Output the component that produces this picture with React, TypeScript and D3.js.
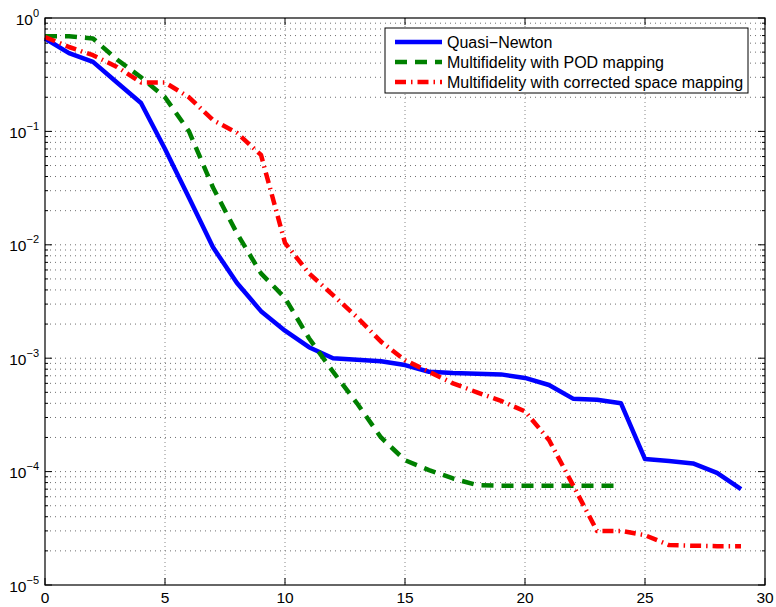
import React from 'react'
import * as d3 from 'd3'

// iteration numbers
const iterations = d3.range(0, 30)

// objective values
const quasiNewton = [0.66, 0.49, 0.41, 0.27, 0.178, 0.07, 0.026, 0.0095, 0.0046, 0.0026,
  0.00175, 0.00125, 0.001, 0.00097, 0.00094, 0.00087, 0.00076, 0.00074, 0.00073, 0.00072,
  0.00067, 0.00058, 0.00044, 0.00043, 0.0004, 0.000129, 0.000124, 0.000118, 0.0000975, 0.00007]

const podMapping = [0.69, 0.69, 0.66, 0.43, 0.3, 0.2, 0.1, 0.032, 0.0126, 0.0056,
  0.0034, 0.0015, 0.00076, 0.0004, 0.0002, 0.000126, 0.000103, 0.000087, 0.000076, 0.000075,
  0.000075, 0.000075, 0.000075, 0.000075, 0.000075]

const spaceMapping = [0.68, 0.555, 0.47, 0.37, 0.27, 0.27, 0.2, 0.126, 0.097, 0.062,
  0.0104, 0.0056, 0.0036, 0.0023, 0.0014, 0.00096, 0.00076, 0.0006, 0.0005, 0.00042,
  0.00034, 0.00019, 0.000076, 0.00003, 0.00003, 0.0000275, 0.0000225, 0.0000222, 0.000022, 0.000022]

const xTicks = [0, 5, 10, 15, 20, 25, 30]
const yExponents = [0, -1, -2, -3, -4, -5]
const legendLabels = ['Quasi\u2212Newton', 'Multifidelity with POD mapping', 'Multifidelity with corrected space mapping']

const width = 776
const height = 607
const margin = { top: 18, right: 11, bottom: 22, left: 45 }
const font = '"Liberation Sans", Arial, Helvetica, sans-serif'

export default function App() {
  const x = d3.scaleLinear().domain([0, 30]).range([margin.left, width - margin.right])
  const y = d3.scaleLog().domain([1e-5, 1]).range([height - margin.bottom, margin.top])

  const line = d3.line<number>()
    .x((_, i) => x(iterations[i]))
    .y(d => y(d))

  // minor log values 2..9 x decade
  const minorVals: number[] = []
  for (let e = -5; e < 0; e++) for (let k = 2; k <= 9; k++) minorVals.push(k * Math.pow(10, e))
  const majorVals = yExponents.map(e => Math.pow(10, e))

  const x0 = margin.left
  const x1 = width - margin.right
  const y0 = margin.top
  const y1 = height - margin.bottom

  const series = [
    { values: quasiNewton, color: '#0000ff', dash: null, w: 4.5 },
    { values: podMapping, color: '#008000', dash: '12 8', w: 4.5 },
    { values: spaceMapping, color: '#ff0000', dash: '11 5 1.5 5', w: 4.5 },
  ]

  const lg = { x: 385, y: 28, w: 363, h: 65 }

  return (
    <svg width={width} height={height} style={{ position: 'absolute', left: 0, top: 0, background: '#fff' }}>
      <rect x={0} y={0} width={width} height={height} fill="#fff" />
      {/* horizontal grid */}
      {[...minorVals, ...majorVals].filter(v => v < 1 && v > 1e-5).map((v, i) => (
        <line key={'hg' + i} x1={x0} x2={x1} y1={y(v)} y2={y(v)}
          stroke="#333" strokeWidth={1} strokeDasharray="1 4" opacity={0.7} />
      ))}
      {/* vertical grid */}
      {xTicks.filter(t => t > 0 && t < 30).map(t => (
        <line key={'vg' + t} x1={x(t)} x2={x(t)} y1={y0} y2={y1}
          stroke="#888" strokeWidth={1} strokeDasharray="1 3" />
      ))}
      {/* minor y ticks */}
      {minorVals.map((v, i) => (
        <g key={'mt' + i}>
          <line x1={x0} x2={x0 + 3} y1={y(v)} y2={y(v)} stroke="#000" />
          <line x1={x1} x2={x1 - 3} y1={y(v)} y2={y(v)} stroke="#000" />
        </g>
      ))}
      {majorVals.map((v, i) => (
        <g key={'Mt' + i}>
          <line x1={x0} x2={x0 + 7} y1={y(v)} y2={y(v)} stroke="#000" />
          <line x1={x1} x2={x1 - 7} y1={y(v)} y2={y(v)} stroke="#000" />
        </g>
      ))}
      {xTicks.map(t => (
        <g key={'xt' + t}>
          <line x1={x(t)} x2={x(t)} y1={y1} y2={y1 - 7} stroke="#000" />
          <line x1={x(t)} x2={x(t)} y1={y0} y2={y0 + 7} stroke="#000" />
        </g>
      ))}
      {/* series */}
      {series.map((s, i) => (
        <path key={'s' + i} d={line(s.values) || ''} fill="none" stroke={s.color}
          strokeWidth={s.w} strokeDasharray={s.dash || undefined} strokeLinejoin="round" />
      ))}
      {/* frame */}
      <rect x={x0} y={y0} width={x1 - x0} height={y1 - y0} fill="none" stroke="#000" strokeWidth={1.2} />
      {/* x tick labels */}
      {xTicks.map(t => (
        <text key={'xl' + t} x={x(t)} y={y1 + 18} textAnchor="middle" fontFamily={font} fontSize={15.5} fill="#000">{t}</text>
      ))}
      {/* y tick labels */}
      {yExponents.map(e => (
        <text key={'yl' + e} x={x0 - 6} y={y(Math.pow(10, e)) + 6.5} textAnchor="end" fontFamily={font} fontSize={15.5} fill="#000">
          10<tspan dy={-8} fontSize={11}>{e === 0 ? '0' : '\u2212' + Math.abs(e)}</tspan>
        </text>
      ))}
      {/* legend */}
      <rect x={lg.x} y={lg.y} width={lg.w} height={lg.h} fill="#fff" stroke="#000" strokeWidth={1} />
      {series.map((s, i) => {
        const ly = lg.y + 14 + i * 20
        return (
          <g key={'lg' + i}>
            <line x1={lg.x + 10} x2={lg.x + 57} y1={ly} y2={ly} stroke={s.color} strokeWidth={s.w}
              strokeDasharray={s.dash || undefined} />
            <text x={lg.x + 62} y={ly + 6} fontFamily={font} fontSize={16} fill="#000">{legendLabels[i]}</text>
          </g>
        )
      })}
    </svg>
  )
}
